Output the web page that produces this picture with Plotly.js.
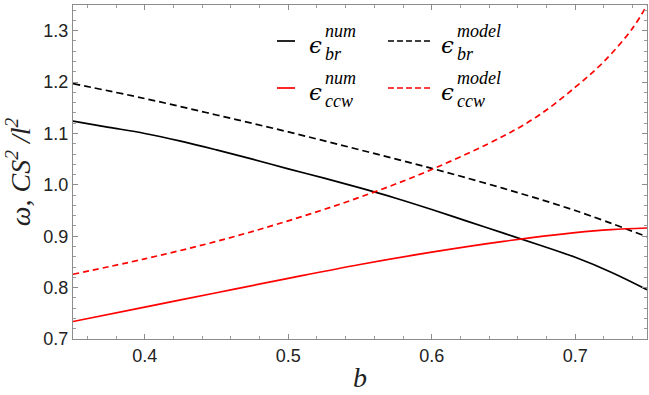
<!DOCTYPE html>
<html><head><meta charset="utf-8">
<script src="https://cdn.plot.ly/plotly-3.0.1.min.js"></script>
<style>html,body{margin:0;padding:0;background:#fff}#chart{width:649px;height:395px}</style>
</head><body><div id="chart"></div>
<script>
// b values
const bNumBr   = [0.35,0.375,0.40,0.425,0.45,0.475,0.50,0.525,0.55,0.575,0.60,0.625,0.65,0.675,0.70,0.725,0.75];
const epsBrNum = [1.124,1.112,1.100,1.085,1.068,1.050,1.031,1.013,0.994,0.974,0.952,0.929,0.906,0.883,0.859,0.830,0.796];
const bModel   = [0.35,0.40,0.45,0.50,0.55,0.60,0.65,0.70,0.75];
const epsBrModel = [1.197,1.168,1.136,1.103,1.068,1.032,0.993,0.950,0.899];
const bCcwModel  = [0.35,0.40,0.45,0.50,0.55,0.60,0.65,0.675,0.70,0.72,0.74,0.75];
const epsCcwModel= [0.826,0.856,0.890,0.930,0.976,1.030,1.095,1.136,1.190,1.240,1.305,1.350];
const bCcwNum    = [0.35,0.40,0.45,0.50,0.55,0.60,0.65,0.70,0.725,0.75];
const epsCcwNum  = [0.734,0.762,0.790,0.818,0.845,0.869,0.890,0.907,0.913,0.916];
const xTicks = [0.4,0.5,0.6,0.7];
const yTicks = [0.7,0.8,0.9,1.0,1.1,1.2,1.3];

const W=649,H=395,L=73,R=2,T=5,B=56;
const pw=W-L-R, ph=H-T-B;
const px=x=>(x-L)/pw, py=y=>(H-B-y)/ph;

const traces=[
 {x:bNumBr,y:epsBrNum,mode:'lines',line:{color:'#000',width:1.7,shape:'spline',smoothing:1},name:'br num'},
 {x:bModel,y:epsBrModel,mode:'lines',line:{color:'#000',width:1.7,dash:'7px,4px',shape:'spline'},name:'br model'},
 {x:bCcwNum,y:epsCcwNum,mode:'lines',line:{color:'#ff0000',width:1.7,shape:'spline',smoothing:1},name:'ccw num'},
 {x:bCcwModel,y:epsCcwModel,mode:'lines',line:{color:'#ff0000',width:1.7,dash:'6px,4px',shape:'spline'},name:'ccw model'}
];

// legend drawn with shapes/annotations
const legendItems=[
 {x0:277,x1:295,y:41,color:'#000',dash:'solid',ex:315,sup:'num',sub:'br',ey:45},
 {x0:388,x1:430,y:41,color:'#000',dash:'6px,3px',ex:447,sup:'model',sub:'br',ey:45},
 {x0:277,x1:295,y:88,color:'#ff0000',dash:'solid',ex:315,sup:'num',sub:'ccw',ey:92},
 {x0:388,x1:430,y:88,color:'#ff0000',dash:'6px,3px',ex:447,sup:'model',sub:'ccw',ey:92}
];
const shapes=[],annotations=[];
legendItems.forEach(it=>{
 shapes.push({type:'line',xref:'paper',yref:'paper',x0:px(it.x0),x1:px(it.x1),y0:py(it.y),y1:py(it.y),line:{color:it.color,width:1.7,dash:it.dash}});
 annotations.push({xref:'paper',yref:'paper',x:px(it.ex),y:py(it.ey),text:'ϵ',showarrow:false,xanchor:'center',yanchor:'middle',font:{family:'DejaVu Serif',size:23,color:'#000',style:'italic'}});
 annotations.push({xref:'paper',yref:'paper',x:px(it.ex+8),y:py(it.ey-3),text:'<i>'+it.sup+'</i><br><i>'+it.sub+'</i>',showarrow:false,align:'left',xanchor:'left',yanchor:'middle',font:{family:'Liberation Serif',size:18,color:'#000'}});
});

const axCommon={showgrid:false,zeroline:false,showline:true,linecolor:'#8c8c8c',linewidth:1,mirror:'ticks',
 ticks:'inside',ticklen:5,tickcolor:'#8c8c8c',tickfont:{family:'Liberation Sans',size:18,color:'#222'}};
const layout={
 width:W,height:H,margin:{l:L,r:R,t:T,b:B},paper_bgcolor:'#fff',plot_bgcolor:'#fff',showlegend:false,
 xaxis:Object.assign({},axCommon,{range:[0.35,0.75],tickvals:xTicks,ticktext:xTicks.map(v=>v.toFixed(1)),
   minor:{dtick:0.02,tick0:0.3,ticks:'inside',ticklen:3,tickcolor:'#9a9a9a'},
   title:{text:'<i>b</i>',font:{family:'Liberation Serif',size:28,color:'#222'},standoff:2}}),
 yaxis:Object.assign({},axCommon,{range:[0.7,1.35],tickvals:yTicks,ticktext:yTicks.map(v=>v.toFixed(1)),
   minor:{dtick:0.02,tick0:0.7,ticks:'inside',ticklen:3,tickcolor:'#9a9a9a'},
   title:{text:'<i>ω</i>, <i>CS</i><sup>2</sup> /<i>l</i><sup>2</sup>',font:{family:'Liberation Serif',size:28,color:'#222',style:'italic'},standoff:4}}),
 shapes:shapes,annotations:annotations
};
Plotly.newPlot('chart',traces,layout,{staticPlot:true,displayModeBar:false});
</script></body></html>
